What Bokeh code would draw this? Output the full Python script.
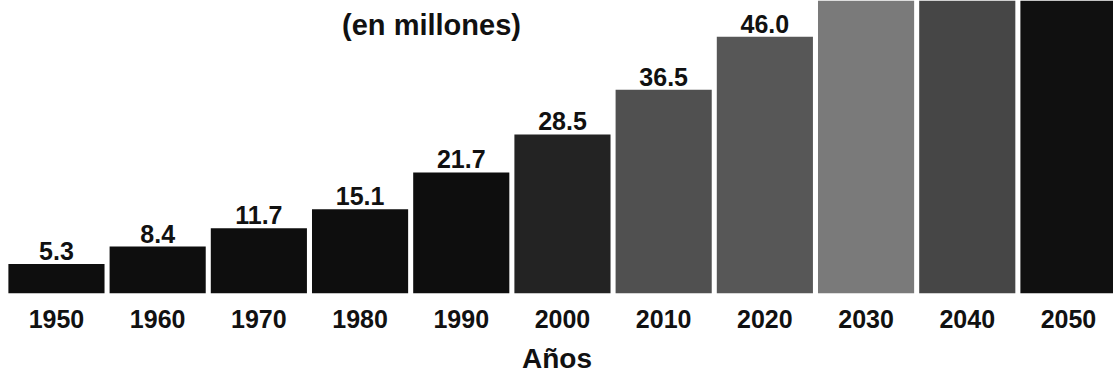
from bokeh.plotting import figure
from bokeh.models import ColumnDataSource, Range1d, FixedTicker, Label
from bokeh.core.properties import value
from bokeh.embed import file_html
from bokeh.resources import INLINE

# ---- data ----
years = ["1950", "1960", "1970", "1980", "1990", "2000", "2010", "2020", "2030", "2040", "2050"]
population = [5.3, 8.4, 11.7, 15.1, 21.7, 28.5, 36.5, 46.0, 64.5, 85.0, 104.9]
bar_colors = ["#0e0e0e", "#0e0e0e", "#0e0e0e", "#0e0e0e", "#0e0e0e", "#232323",
              "#505050", "#575757", "#7a7a7a", "#464646", "#101010"]
title_text = "(en millones)"
x_label = "Años"

Y_MAX = 52.5
xs = list(range(len(years)))
# value labels only for bars whose top is inside the visible area (the others are cut in the reference)
labels = ["%.1f" % v if v < Y_MAX - 4 else "" for v in population]
src = ColumnDataSource(dict(x=xs, top=population, color=bar_colors, label=labels))

p = figure(width=1113, height=381, output_backend="svg", toolbar_location=None,
           x_range=Range1d(-0.553, 10.445), y_range=Range1d(0, Y_MAX),
           min_border_left=0, min_border_right=0, min_border_top=0, min_border_bottom=88)
p.background_fill_color = "white"
p.border_fill_color = "white"
p.outline_line_color = None
p.grid.visible = False
p.yaxis.visible = False

p.vbar(x="x", top="top", bottom=0, width=0.95, color="color", line_color=None, source=src)
p.text(x="x", y="top", text="label", source=src, text_align="center", text_baseline="bottom",
       y_offset=-4, text_font=value("Liberation Sans"), text_font_style="bold",
       text_font_size="25px", text_color="#111111")

ax = p.xaxis[0]
ax.ticker = FixedTicker(ticks=xs)
ax.major_label_overrides = {i: y for i, y in zip(xs, years)}
ax.axis_line_color = None
ax.major_tick_line_color = None
ax.minor_tick_line_color = None
ax.major_tick_out = 0
ax.major_tick_in = 0
ax.major_label_standoff = 16
ax.major_label_text_font = "Liberation Sans"
ax.major_label_text_font_style = "bold"
ax.major_label_text_font_size = "25px"
ax.major_label_text_color = "#111111"
ax.axis_label = x_label
ax.axis_label_standoff = 12
ax.axis_label_text_font = "Liberation Sans"
ax.axis_label_text_font_style = "bold"
ax.axis_label_text_font_size = "28px"
ax.axis_label_text_color = "#111111"

p.add_layout(Label(x=431, y=269, x_units="screen", y_units="screen", text=title_text,
                   text_align="center", text_baseline="middle",
                   text_font="Liberation Sans", text_font_style="bold",
                   text_font_size="29px", text_color="#111111"))

open("out.html", "w").write(file_html(p, INLINE))
